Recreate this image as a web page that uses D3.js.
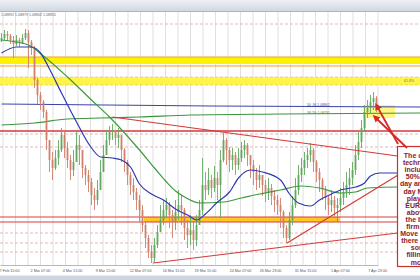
<!DOCTYPE html>
<html><head><meta charset="utf-8">
<script src="https://cdn.jsdelivr.net/npm/d3@7"></script>
<style>body{margin:0;background:#fff;overflow:hidden}svg{display:block}</style>
</head><body><svg id="c" width="420" height="280"></svg>
<script>
// ---------- DATA ----------
const firstOpen = 1.0950;
const closes = [1.0953,1.0957,1.0955,1.0951,1.0947,1.0951,1.0948,1.0953,1.0958,1.0949,
 1.0943,1.0911,1.0896,1.0889,1.0879,1.0851,1.0831,1.0823,1.0833,1.0841,
 1.0856,1.0843,1.0831,1.0821,1.0829,1.0846,1.0841,1.0823,1.0816,1.0809,
 1.0796,1.0791,1.0801,1.0819,1.0836,1.0851,1.0859,1.0861,1.0853,1.0856,
 1.0841,1.0829,1.0816,1.0806,1.0799,1.0791,1.0781,1.0766,1.0753,1.0739,
 1.0733,1.0746,1.0759,1.0771,1.0781,1.0786,1.0776,1.0769,1.0779,1.0786,
 1.0781,1.0763,1.0756,1.0761,1.0751,1.0766,1.0781,1.0806,1.0801,1.0811,
 1.0803,1.0813,1.0806,1.0831,1.0851,1.0841,1.0831,1.0836,1.0826,1.0833,
 1.0841,1.0846,1.0836,1.0826,1.0819,1.0811,1.0816,1.0806,1.0799,1.0803,
 1.0795,1.0791,1.0786,1.0779,1.0763,1.0753,1.0771,1.0786,1.0801,1.0816,
 1.0823,1.0831,1.0836,1.0841,1.0829,1.0819,1.0811,1.0801,1.0793,1.0786,
 1.0791,1.0783,1.0786,1.0793,1.0799,1.0806,1.0813,1.0821,1.0836,1.0849,
 1.0863,1.0879,1.0883,1.0889,1.0893,1.0886];
const highs = [1.0958,1.0961,1.0960,1.0957,1.0955,1.0956,1.0953,1.0957,1.0962,1.0961,
 1.0951,1.0945,1.0913,1.0899,1.0891,1.0881,1.0851,1.0839,1.0841,1.0851,
 1.0863,1.0859,1.0849,1.0836,1.0841,1.0859,1.0856,1.0839,1.0826,1.0821,
 1.0813,1.0803,1.0811,1.0831,1.0846,1.0861,1.0865,1.0867,1.0861,1.0863,
 1.0853,1.0843,1.0831,1.0819,1.0813,1.0803,1.0796,1.0786,1.0769,1.0756,
 1.0746,1.0753,1.0766,1.0786,1.0791,1.0793,1.0789,1.0781,1.0791,1.0801,
 1.0796,1.0783,1.0771,1.0776,1.0769,1.0776,1.0791,1.0833,1.0819,1.0823,
 1.0816,1.0825,1.0819,1.0841,1.0858,1.0853,1.0844,1.0843,1.0839,1.0843,
 1.0849,1.0851,1.0848,1.0836,1.0831,1.0823,1.0826,1.0816,1.0811,1.0813,
 1.0807,1.0801,1.0796,1.0793,1.0781,1.0766,1.0779,1.0795,1.0813,1.0826,
 1.0833,1.0839,1.0843,1.0848,1.0843,1.0831,1.0823,1.0813,1.0805,1.0796,
 1.0801,1.0795,1.0793,1.0803,1.0809,1.0819,1.0823,1.0829,1.0846,1.0859,
 1.0871,1.0886,1.0891,1.0896,1.0899,1.0895];
const lows = [1.0949,1.0951,1.0950,1.0947,1.0933,1.0945,1.0944,1.0947,1.0951,1.0923,
 1.0936,1.0903,1.0887,1.0881,1.0873,1.0841,1.0819,1.0811,1.0821,1.0826,
 1.0839,1.0833,1.0823,1.0811,1.0815,1.0831,1.0826,1.0813,1.0806,1.0799,
 1.0786,1.0781,1.0786,1.0801,1.0821,1.0836,1.0846,1.0851,1.0846,1.0843,
 1.0829,1.0819,1.0806,1.0796,1.0791,1.0781,1.0769,1.0759,1.0743,1.0733,
 1.0728,1.0729,1.0743,1.0759,1.0766,1.0773,1.0763,1.0753,1.0761,1.0771,
 1.0766,1.0751,1.0743,1.0746,1.0741,1.0745,1.0766,1.0776,1.0791,1.0796,
 1.0793,1.0799,1.0791,1.0773,1.0829,1.0826,1.0819,1.0821,1.0816,1.0821,
 1.0829,1.0833,1.0825,1.0813,1.0806,1.0801,1.0803,1.0795,1.0789,1.0791,
 1.0786,1.0779,1.0776,1.0763,1.0753,1.0748,1.0751,1.0766,1.0783,1.0796,
 1.0809,1.0816,1.0823,1.0829,1.0819,1.0809,1.0799,1.0791,1.0781,1.0776,
 1.0779,1.0773,1.0769,1.0779,1.0786,1.0793,1.0796,1.0806,1.0816,1.0831,
 1.0843,1.0859,1.0873,1.0877,1.0881,1.0879];

// hourly moving averages (sampled at candle index)
const blueMaIdx = [0,5,10,13,16,20,25,30,33,37,40,43,46,50,54,58,62,65,68,72,76,79,83,87,93,96,99,103,106,110,113,118,121,123,126,132,140];
const blueMa = [1.0938,1.0944,1.0944,1.0938,1.0922,1.0898,1.0869,1.0843,1.0834,1.0833,1.0831,1.0824,1.0807,1.0797,1.0791,1.0782,1.0776,1.0771,1.0777,1.0789,1.0799,1.0813,1.0821,1.0819,1.0811,1.0797,1.0788,1.0785,1.0791,1.0797,1.0801,1.0804,1.0808,1.0815,1.0818,1.0818,1.0818];
const greenMaIdx = [0,5,9,14,22,30,36,46,51,55,58,61,66,74,80,86,93,100,106,113,118,122,132,140];
const greenMa = [1.0951,1.0949,1.0946,1.0935,1.0914,1.0891,1.0874,1.0841,1.0823,1.0809,1.0800,1.0794,1.0788,1.0789,1.0793,1.0797,1.0801,1.0805,1.0803,1.0798,1.0799,1.0803,1.0804,1.0804];
// daily moving averages
const dailyBlueIdx = [0,70,140];
const dailyBlue = [1.0887,1.0885,1.0884];
const dailyGreenIdx = [0,11,22,33,46,63,93,140];
const dailyGreen = [1.0866,1.0868,1.0872,1.0873,1.0874,1.0876,1.0877,1.0878];

// levels
const dashedLevels = [1.0967,1.0857,1.0844,1.0758,1.0748,1.0739];
const band1 = [1.0934,1.0927];
const band2 = [1.0914,1.0906];
const redLevel = 1.0860;
const lowBand = [1.0774,1.0769];
const lowBandIdx = [48,113.3];
// trend lines [idx, price] pairs
const trendLines = [
  [[37.5,1.0874],[132.5,1.0835]],
  [[51,1.0728],[132.5,1.0758]],
  [[95.7,1.0748],[132.7,1.0816]]
];

const tickIdx = [2.7,13.3,24,35,46.7,57.7,68.3,80,90,101.7,113.3,125.7];
const tickLabels = ["27 Feb 15:00","2 Mar 07:00","4 Mar 15:00","9 Mar 15:00","12 Mar 07:00","16 Mar 15:00","19 Mar 15:00","24 Mar 07:00","26 Mar 23:00","31 Mar 15:00","1 Apr 07:00","7 Apr 23:00"];
const noteLines = ["The close","technicals","including","50%, the","day and 200","day MA in","play the","EURUSD","above it","the bulls","firm and","Move below","there could","some","filling of","move"];

// ---------- DRAW ----------
const svg = d3.select("#c");
const W = 420, H = 280;
const x = d3.scaleLinear().domain([0,126]).range([0,378]);
const y = d3.scaleLinear().domain([1.0726,1.0979]).range([265,12]);

// header gradient
const defs = svg.append("defs");
const g1 = defs.append("linearGradient").attr("id","hdr").attr("x1",0).attr("x2",0).attr("y1",0).attr("y2",1);
g1.append("stop").attr("offset","0").attr("stop-color","#eef1f4");
g1.append("stop").attr("offset","1").attr("stop-color","#cfd8e2");
defs.append("marker").attr("id","arr").attr("viewBox","0 0 10 10").attr("refX",2).attr("refY",5)
  .attr("markerWidth",4).attr("markerHeight",4).attr("orient","auto-start-reverse")
  .append("path").attr("d","M0,0L10,5L0,10z").attr("fill","#d42a2a");

svg.append("rect").attr("width",W).attr("height",H).attr("fill","#fff");
svg.append("rect").attr("width",W).attr("height",11).attr("fill","url(#hdr)");
svg.append("line").attr("x1",0).attr("x2",W).attr("y1",11.5).attr("y2",11.5).attr("stroke","#aab4c0");

// vertical grid
const gridIdx = d3.range(0,31).map(k=>1+k*25/6);
svg.append("g").selectAll("line").data(gridIdx).join("line")
  .attr("x1",d=>x(d)).attr("x2",d=>x(d)).attr("y1",12).attr("y2",265)
  .attr("stroke","#d8d8d8").attr("stroke-width",0.8);

// bands
svg.append("rect").attr("x",0).attr("width",W).attr("y",y(band1[0])).attr("height",y(band1[1])-y(band1[0])).attr("fill","#fff200");
[band1[0], band1[1]-0.0002].forEach(v=>svg.append("line").attr("x1",0).attr("x2",W).attr("y1",y(v)).attr("y2",y(v)).attr("stroke","#f0a020").attr("stroke-width",1.2));
svg.append("rect").attr("x",0).attr("width",W).attr("y",y(band2[0])).attr("height",y(band2[1])-y(band2[0])).attr("fill","#fff44a");
band2.forEach(v=>svg.append("line").attr("x1",0).attr("x2",W).attr("y1",y(v)).attr("y2",y(v)).attr("stroke","#e8c060").attr("stroke-dasharray","3,2").attr("stroke-width",0.7));
svg.append("rect").attr("x",x(lowBandIdx[0])).attr("width",x(lowBandIdx[1])-x(lowBandIdx[0]))
  .attr("y",y(lowBand[0])).attr("height",y(lowBand[1])-y(lowBand[0])).attr("fill","#ffc81e");
lowBand.forEach(v=>svg.append("line").attr("x1",0).attr("x2",398).attr("y1",y(v)).attr("y2",y(v)).attr("stroke","#d83a3a").attr("stroke-width",1));

// dashed levels
svg.append("g").selectAll("line").data(dashedLevels).join("line")
  .attr("x1",0).attr("x2",W).attr("y1",d=>y(d)).attr("y2",d=>y(d))
  .attr("stroke","#e2a6a6").attr("stroke-width",0.8).attr("stroke-dasharray","3,2");
svg.append("line").attr("x1",0).attr("x2",W).attr("y1",y(redLevel)).attr("y2",y(redLevel)).attr("stroke","#d33a3a").attr("stroke-width",1.3);

// highlight near the high
svg.append("rect").attr("x",x(121)).attr("width",x(131.7)-x(121)).attr("y",y(1.0886)).attr("height",y(1.0873)-y(1.0886)).attr("fill","#fff36a").attr("opacity",0.85);

// daily MAs
const lineGen = (idx, vals, curve) => d3.line().x((d,i)=>x(idx[i]+0.5)).y(d=>y(d)).curve(curve)(vals);
svg.append("path").attr("d",lineGen(dailyBlueIdx,dailyBlue,d3.curveMonotoneX)).attr("fill","none").attr("stroke","#3b45a8").attr("stroke-width",1.1);
svg.append("path").attr("d",lineGen(dailyGreenIdx,dailyGreen,d3.curveMonotoneX)).attr("fill","none").attr("stroke","#3d9440").attr("stroke-width",1.1);

// candles
const candles = closes.map((c,i)=>({i, o: i===0?firstOpen:closes[i-1], c, h: highs[i], l: lows[i]}));
const cg = svg.append("g");
cg.selectAll("line").data(candles).join("line")
  .attr("x1",d=>x(d.i+0.5)).attr("x2",d=>x(d.i+0.5))
  .attr("y1",d=>y(Math.max(d.h,d.o,d.c))).attr("y2",d=>y(Math.min(d.l,d.o,d.c)))
  .attr("stroke",d=>d.c>=d.o?"#62a85e":"#cf7f6a").attr("stroke-width",0.9);
cg.selectAll("rect").data(candles).join("rect")
  .attr("x",d=>x(d.i+0.5)-0.9).attr("width",1.8)
  .attr("y",d=>y(Math.max(d.o,d.c))).attr("height",d=>Math.max(0.8,Math.abs(y(d.o)-y(d.c))))
  .attr("fill",d=>d.c>=d.o?"#62a85e":"#cf7f6a");

// hourly MAs
svg.append("path").attr("d",lineGen(greenMaIdx,greenMa,d3.curveMonotoneX)).attr("fill","none").attr("stroke","#3d9a3d").attr("stroke-width",1.2);
svg.append("path").attr("d",lineGen(blueMaIdx,blueMa,d3.curveMonotoneX)).attr("fill","none").attr("stroke","#2f3ab0").attr("stroke-width",1.2);

// trend lines
svg.append("g").selectAll("line").data(trendLines).join("line")
  .attr("x1",d=>x(d[0][0])).attr("y1",d=>y(d[0][1])).attr("x2",d=>x(d[1][0])).attr("y2",d=>y(d[1][1]))
  .attr("stroke","#d43a3a").attr("stroke-width",1.2);

// x axis
const ax = svg.append("g").attr("transform","translate(0,265)")
  .call(d3.axisBottom(x).tickValues(tickIdx).tickFormat((d,i)=>tickLabels[i]).tickSize(0).tickPadding(4));
ax.select(".domain").attr("stroke","#b8b8b8");
ax.selectAll("text").attr("font-family","Liberation Sans, Arial").attr("font-size",3.7).attr("fill","#555");
svg.append("rect").attr("x",0).attr("y",275.5).attr("width",W).attr("height",4.5).attr("fill","#cdd6e0");

// header text
svg.append("text").attr("x",1).attr("y",16).attr("font-family","Liberation Sans, Arial").attr("font-size",3.6).attr("fill","#666")
  .text("1.08892 1.08879 1.08802 1.08855");
svg.append("text").attr("x",404).attr("y",82).attr("font-family","Liberation Sans, Arial").attr("font-size",3.6).attr("fill","#777").text("61.8%");
svg.append("text").attr("x",307).attr("y",106).attr("font-family","Liberation Sans, Arial").attr("font-size",3.4).attr("fill","#4450a8").text("50 .96 1.08842");
svg.append("text").attr("x",307).attr("y",114).attr("font-family","Liberation Sans, Arial").attr("font-size",3.4).attr("fill","#3d9440").text("38.2% 1.08731");

// annotation box
svg.append("rect").attr("x",397.5).attr("y",146.5).attr("width",40).attr("height",120).attr("fill","#fff").attr("stroke","#c83030").attr("stroke-width",1.2);
svg.append("g").selectAll("text").data(noteLines).join("text")
  .attr("x",420).attr("y",(d,i)=>158+i*7.1).attr("text-anchor","middle")
  .attr("font-family","Liberation Sans, Arial").attr("font-weight","bold").attr("font-size",7).attr("fill","#8c1b1b")
  .text(d=>d);

// arrows
[[[398,144],[378,108]],[[407,148],[377,119]]].forEach(p=>{
  svg.append("line").attr("x1",p[0][0]).attr("y1",p[0][1]).attr("x2",p[1][0]).attr("y2",p[1][1])
    .attr("stroke","#d42a2a").attr("stroke-width",1.8).attr("marker-end","url(#arr)");
});
</script></body></html>
